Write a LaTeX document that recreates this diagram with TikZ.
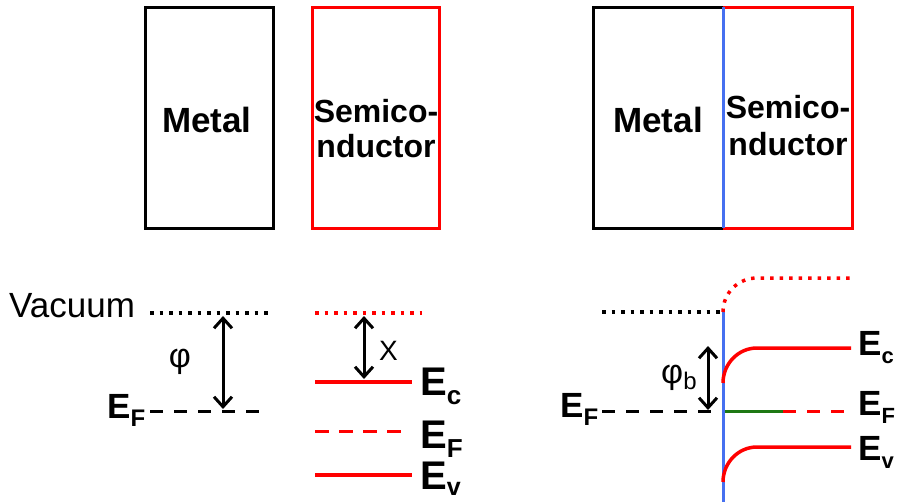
\documentclass[tikz,border=0pt]{standalone}
\usepackage{fontspec}
\setmainfont{Liberation Sans}
\usetikzlibrary{arrows.meta}
\definecolor{ired}{RGB}{255,0,0}
\definecolor{iblue}{RGB}{70,112,240}
\definecolor{igreen}{RGB}{30,120,20}
\newcommand\lab[4]{\fontsize{#1}{#1}\selectfont\bfseries E\raisebox{-#3pt}{\fontsize{#2}{#2}\selectfont #4}}
\begin{document}
\begin{tikzpicture}[x=1pt,y=-1pt,
  boxtext/.style={font=\fontsize{32}{35}\selectfont\bfseries, inner sep=0, anchor=base},
  metaltext/.style={font=\fontsize{35}{35}\selectfont\bfseries, inner sep=0, anchor=base},
  eln/.style={inner sep=0, anchor=base west},
  dotl/.style={line width=3.5pt, dash pattern=on 3.5pt off 6pt},
  dashl/.style={line width=3pt, dash pattern=on 13pt off 11pt},
  solidl/.style={line width=3.5pt},
  dbl/.style={line width=3pt, {Straight Barb[length=10pt,width=18pt]}-{Straight Barb[length=10pt,width=18pt]}},
  boxl/.style={line width=3pt, line join=miter},
]
\useasboundingbox (0,0) rectangle (897,501);
\fill[white] (0,0) rectangle (897,501);

% ---- top left boxes
\draw[boxl] (145,7) rectangle (273,228);
\draw[boxl, ired] (312,7) rectangle (439,228);
\node[metaltext] (m1) at (207,132) {Metal};
\node[boxtext] (s1a) at (376,122) {Semico-};
\node[boxtext] (s1b) at (376,157) {nductor};

% ---- top right boxes
\coordinate (jt) at (723,7);
\coordinate (jb) at (723,228);
\draw[boxl] (jt) -- (593,7) -- (593,228) -- (jb);
\draw[boxl, ired] (jt) -- (852,7) -- (852,228) -- (jb);
\draw[line width=3pt, iblue] (jt) -- (jb);
\node[metaltext] (m2) at (658,132) {Metal};
\node[boxtext] (s2a) at (788,118) {Semico-};
\node[boxtext] (s2b) at (788,155) {nductor};

% ---- bottom left: metal
\node[eln, font=\fontsize{35}{35}\selectfont] (vac) at (9,317) {Vacuum};
\coordinate (mv1) at (150,313); \coordinate (mv2) at (270,313);
\draw[dotl] (mv1) -- (mv2);
\coordinate (mf1) at (150,411); \coordinate (mf2) at (267,411);
\draw[dashl] (mf1) -- (mf2);
\node[eln] (ef1) at (107,418) {\lab{35}{24}{8}{F}};
\coordinate (pa) at (223,316); \coordinate (pb) at (223,409);
\draw[dbl] (pa) -- (pb);
\node[font=\fontsize{34}{34}\selectfont, inner sep=0] (phi) at (180,362) {φ};

% ---- bottom left: semiconductor
\coordinate (sv1) at (315,313); \coordinate (sv2) at (422,313);
\draw[dotl, ired] (sv1) -- (sv2);
\coordinate (sc1) at (315,382); \coordinate (sc2) at (412,382);
\draw[solidl, ired] (sc1) -- (sc2);
\coordinate (sf1) at (315,431); \coordinate (sf2) at (406,431);
\draw[dashl, ired, dash pattern=on 14pt off 10pt] (sf1) -- (sf2);
\coordinate (sw1) at (315,475); \coordinate (sw2) at (412,475);
\draw[solidl, ired] (sw1) -- (sw2);
\coordinate (xa) at (364,316); \coordinate (xb) at (364,379);
\draw[dbl] (xa) -- (xb);
\node[eln, font=\fontsize{28}{28}\selectfont] (xl) at (379,360) {X};
\node[eln] (ec1) at (420,395) {\lab{40}{26}{9}{c}};
\node[eln] (ef2) at (420,448) {\lab{40}{26}{9}{F}};
\node[eln] (ev1) at (420,489) {\lab{40}{25}{6}{v}};

% ---- bottom right: junction
\coordinate (bt) at (723,312); \coordinate (bb) at (723,503);
\draw[line width=3pt, iblue] (bt) -- (bb);
\coordinate (jv0) at (602,312);
\draw[dotl] (jv0) -- (bt);
\coordinate (jv1) at (757,278); \coordinate (jv2) at (850,278);
\draw[dotl, ired] (bt) .. controls (723,293) and (738,278) .. (jv1) -- (jv2);
\coordinate (jc0) at (723,383); \coordinate (jc1) at (757,348); \coordinate (jc2) at (851,348);
\draw[solidl, ired] (jc0) .. controls (723,364) and (738,348) .. (jc1) -- (jc2);
\coordinate (jw0) at (723,482); \coordinate (jw1) at (757,447); \coordinate (jw2) at (851,447);
\draw[solidl, ired] (jw0) .. controls (723,463) and (738,447) .. (jw1) -- (jw2);
\coordinate (jf0) at (602,411); \coordinate (jfm) at (722,411);
\draw[dashl] (jf0) -- (jfm);
\coordinate (jg0) at (725,411); \coordinate (jg1) at (783,411); \coordinate (jg2) at (853,411);
\draw[solidl, igreen, line width=3pt] (jg0) -- (jg1);
\draw[dashl, ired, dash pattern=on 13pt off 11pt] (jg1) -- (jg2);
\coordinate (ba) at (708,346); \coordinate (bb2) at (708,410);
\draw[dbl] (ba) -- (bb2);
\node[eln, font=\fontsize{34}{34}\selectfont] (phib) at (661,383) {φ\raisebox{-6pt}{\fontsize{24}{24}\selectfont b}};
\node[eln] (ef3) at (560,417) {\lab{35}{24}{8}{F}};
\node[eln] (ec2) at (858,355) {\lab{35}{22}{8}{c}};
\node[eln] (ef4) at (858,415) {\lab{35}{22}{8}{F}};
\node[eln] (ev2) at (858,460) {\lab{35}{22}{8}{v}};
\end{tikzpicture}
\end{document}
